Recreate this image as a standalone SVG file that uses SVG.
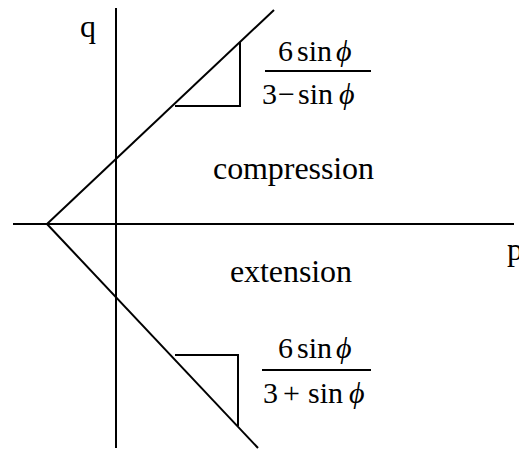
<svg xmlns="http://www.w3.org/2000/svg" width="519" height="450" viewBox="0 0 519 450">
<style>
.ln{stroke:#000;stroke-width:2;fill:none}
.lbl{font-family:"Liberation Serif","Times New Roman",serif;font-size:32px;fill:#000}
.fr{font-family:"Liberation Serif","Times New Roman",serif;font-size:30px;fill:#000}
.it{font-style:italic}
</style>
<rect width="519" height="450" fill="#fff"/>
<g id="connectors">
<line class="ln" x1="13" y1="224" x2="514" y2="224"/>
<line class="ln" x1="116" y1="8" x2="116" y2="448"/>
<line class="ln" x1="47" y1="224" x2="274" y2="10"/>
<line class="ln" x1="47" y1="224" x2="258" y2="448"/>
</g>
<g id="upper-slope">
<polyline class="ln" points="175,106 240,106 240,42"/>
<line class="ln" x1="265" y1="71" x2="371" y2="71"/>
<text class="fr" y="61"><tspan x="278">6</tspan><tspan x="297">sin</tspan><tspan x="336" class="it">ϕ</tspan></text>
<text class="fr" y="104"><tspan x="262">3</tspan><tspan x="278">−</tspan><tspan x="298">sin</tspan><tspan x="339" class="it">ϕ</tspan></text>
</g>
<g id="lower-slope">
<polyline class="ln" points="175,355 238,355 238,426"/>
<line class="ln" x1="262" y1="370" x2="371" y2="370"/>
<text class="fr" y="358"><tspan x="278">6</tspan><tspan x="297">sin</tspan><tspan x="336" class="it">ϕ</tspan></text>
<text class="fr" y="403"><tspan x="263">3</tspan><tspan x="283">+</tspan><tspan x="308">sin</tspan><tspan x="349" class="it">ϕ</tspan></text>
</g>
<g id="label-q"><text class="lbl" x="80" y="37">q</text></g>
<g id="label-p"><text class="lbl" x="507" y="260">p</text></g>
<g id="label-compression"><text class="lbl" x="213" y="179" textLength="161">compression</text></g>
<g id="label-extension"><text class="lbl" x="230" y="282" textLength="122">extension</text></g>
</svg>
